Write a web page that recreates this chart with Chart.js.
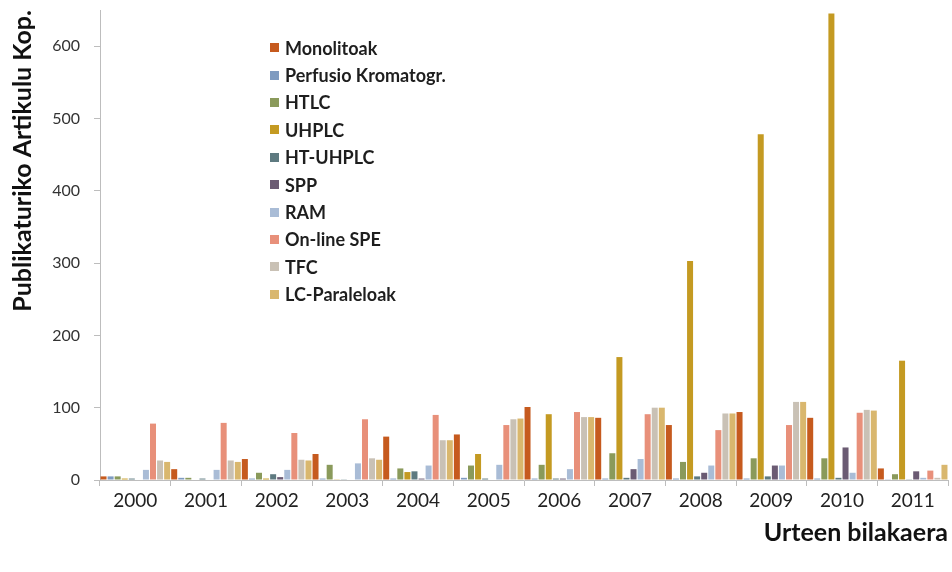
<!DOCTYPE html>
<html>
<head>
<meta charset="utf-8">
<script src="https://cdn.jsdelivr.net/npm/chart.js@4.4.1/dist/chart.umd.min.js"></script>
<style>
  html, body { margin: 0; padding: 0; background: #fff; }
  #wrap { position: relative; width: 952px; height: 572px; }
  #legend {
    position: absolute; left: 270px; top: 34px;
    font-family: Lato, "Open Sans", sans-serif; font-weight: bold;
    font-size: 18px; color: #1e1e1e;
  }
  #legend .item { height: 27.4px; display: flex; align-items: center; }
  #legend .box { width: 9px; height: 9px; margin-right: 6px; }
</style>
</head>
<body>
<div id="wrap">
  <canvas id="chart" width="952" height="572"></canvas>
  <div id="legend"></div>
</div>
<script>
// Publication counts per technique, 2000-2011
const years = ['2000', '2001', '2002', '2003', '2004', '2005', '2006', '2007', '2008', '2009', '2010', '2011'];

const monolitoak   = [5, 15, 29, 36, 60, 63, 101, 86, 76, 94, 86, 16];
const perfusio     = [5, 3, 2, 2, 2, 3, 2, 2, 2, 2, 2, 1];
const htlc         = [5, 3, 10, 21, 16, 20, 21, 37, 25, 30, 30, 8];
const uhplc        = [2, 0, 2, 1, 11, 36, 91, 170, 303, 478, 645, 165];
const htUhplc      = [2, 2, 8, 1, 12, 2, 2, 3, 5, 5, 3, 1];
const spp          = [0, 0, 4, 0, 2, 0, 2, 15, 10, 20, 45, 12];
const ram          = [14, 14, 14, 23, 20, 21, 15, 29, 20, 20, 10, 3];
const onlineSpe    = [78, 79, 65, 84, 90, 76, 94, 91, 69, 76, 93, 13];
const tfc          = [27, 27, 28, 30, 55, 84, 87, 100, 92, 108, 97, 3];
const lcParaleloak = [25, 25, 27, 28, 55, 85, 87, 100, 92, 108, 96, 21];

const seriesNames = ['Monolitoak', 'Perfusio Kromatogr.', 'HTLC', 'UHPLC', 'HT-UHPLC',
                     'SPP', 'RAM', 'On-line SPE', 'TFC', 'LC-Paraleloak'];
const seriesData = [monolitoak, perfusio, htlc, uhplc, htUhplc, spp, ram, onlineSpe, tfc, lcParaleloak];
const seriesColors = ['#C65A1E', '#7F9BC0', '#8A9A5B', '#C49A22', '#5E7A80',
                      '#6B5B73', '#A9BCD6', '#E8907A', '#C9C1B5', '#D9B76E'];

const font = 'Lato, "Open Sans", sans-serif';

const datasets = seriesNames.map((name, i) => ({
    label: name,
    data: seriesData[i],
    backgroundColor: seriesColors[i],
    borderWidth: 0,
    categoryPercentage: 1.0,
    barPercentage: 0.85
}));

const chart = new Chart(document.getElementById('chart'), {
    type: 'bar',
    data: { labels: years, datasets: datasets },
    options: {
        responsive: false,
        animation: false,
        layout: { padding: { left: 0, right: 4, top: 10, bottom: 20 } },
        plugins: {
            legend: { display: false },
            tooltip: { enabled: false }
        },
        scales: {
            x: {
                grid: { display: true, offset: true, drawOnChartArea: false, drawTicks: true, tickLength: 6, color: '#BDBDBD' },
                border: { display: true, color: '#BDBDBD' },
                ticks: { color: '#222', padding: 3, font: { family: font, size: 19 } },
                title: {
                    display: true, text: 'Urteen bilakaera', align: 'end',
                    color: '#111', font: { family: font, size: 25, weight: 'bold' }
                },
                afterFit: scale => { scale.height = 72; }
            },
            y: {
                min: 0,
                max: 650,
                grid: { display: true, drawOnChartArea: false, drawTicks: true, tickLength: 6, color: '#BDBDBD' },
                border: { display: true, color: '#BDBDBD' },
                ticks: { stepSize: 100, color: '#333', padding: 14, font: { family: font, size: 16 } },
                afterBuildTicks: axis => { axis.ticks = axis.ticks.filter(t => t.value % 100 === 0); },
                title: {
                    display: true, text: 'Publikaturiko Artikulu Kop.', align: 'end',
                    padding: { top: 8, bottom: 4 },
                    color: '#111', font: { family: font, size: 25, weight: 'bold' }
                },
                afterFit: scale => {
                    scale.width = 100;
                    scale.paddingTop = 0;
                }
            }
        }
    }
});

// Legend list placed inside the plot area
const legendEl = document.getElementById('legend');
chart.data.datasets.forEach(ds => {
    const row = document.createElement('div');
    row.className = 'item';
    const box = document.createElement('span');
    box.className = 'box';
    box.style.background = ds.backgroundColor;
    row.appendChild(box);
    row.appendChild(document.createTextNode(ds.label));
    legendEl.appendChild(row);
});
</script>
</body>
</html>
